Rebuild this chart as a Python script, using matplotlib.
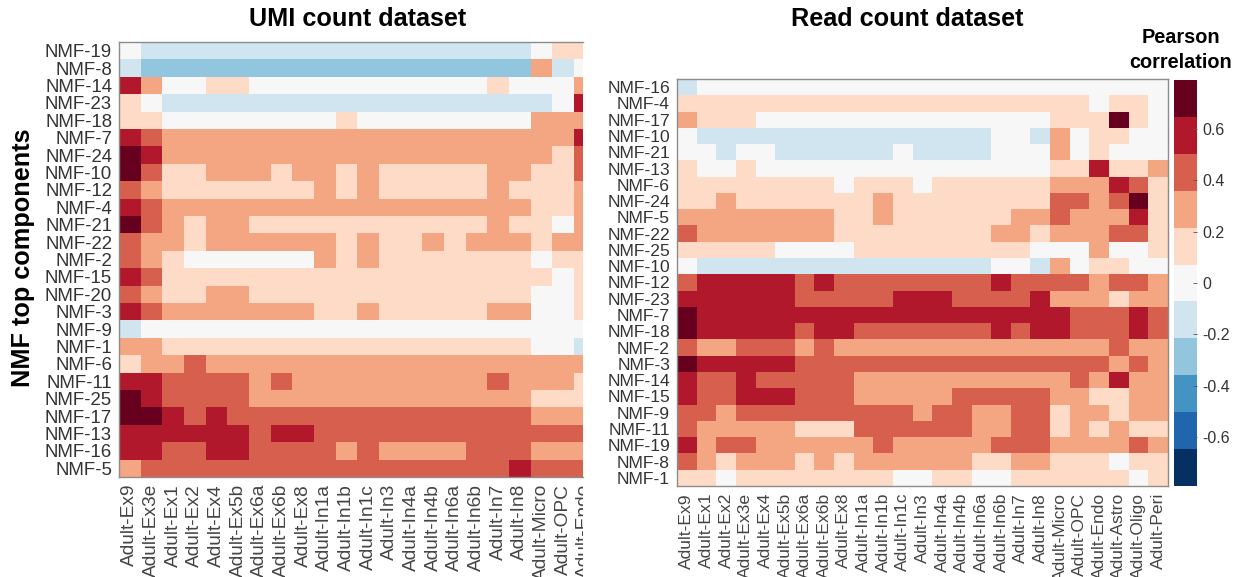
import numpy as np
import matplotlib
matplotlib.use('Agg')
from matplotlib import pyplot as plt
from matplotlib.colors import ListedColormap
from matplotlib.transforms import Bbox

plt.rcParams['font.family'] = ['Liberation Sans', 'DejaVu Sans']

W, H = 1242, 577

# levels of the binned colour scale, one step = bin_step of correlation
bin_step = 0.144

umi_rows = ['NMF-19', 'NMF-8', 'NMF-14', 'NMF-23', 'NMF-18', 'NMF-7', 'NMF-24', 'NMF-10', 'NMF-12',
            'NMF-4', 'NMF-21', 'NMF-22', 'NMF-2', 'NMF-15', 'NMF-20', 'NMF-3', 'NMF-9', 'NMF-1',
            'NMF-6', 'NMF-11', 'NMF-25', 'NMF-17', 'NMF-13', 'NMF-16', 'NMF-5']
umi_cols = ['Adult-Ex9', 'Adult-Ex3e', 'Adult-Ex1', 'Adult-Ex2', 'Adult-Ex4', 'Adult-Ex5b', 'Adult-Ex6a',
            'Adult-Ex6b', 'Adult-Ex8', 'Adult-In1a', 'Adult-In1b', 'Adult-In1c', 'Adult-In3', 'Adult-In4a',
            'Adult-In4b', 'Adult-In6a', 'Adult-In6b', 'Adult-In7', 'Adult-In8', 'Adult-Micro', 'Adult-OPC',
            'Adult-Endo']
umi_levels = [
    [0, -1, -1, -1, -1, -1, -1, -1, -1, -1, -1, -1, -1, -1, -1, -1, -1, -1, -1, 0, 1, 1],
    [-1, -2, -2, -2, -2, -2, -2, -2, -2, -2, -2, -2, -2, -2, -2, -2, -2, -2, -2, 2, -1, 0],
    [4, 2, 0, 0, 1, 1, 0, 0, 0, 0, 0, 0, 0, 0, 0, 0, 0, 1, 0, 0, 0, 2],
    [1, 0, -1, -1, -1, -1, -1, -1, -1, -1, -1, -1, -1, -1, -1, -1, -1, -1, -1, -1, 0, 4],
    [1, 1, 0, 0, 0, 0, 0, 0, 0, 0, 1, 0, 0, 0, 0, 0, 0, 0, 0, 2, 2, 2],
    [4, 3, 2, 2, 2, 2, 2, 2, 2, 2, 2, 2, 2, 2, 2, 2, 2, 2, 2, 2, 2, 4],
    [5, 4, 2, 2, 2, 2, 2, 2, 2, 2, 2, 2, 2, 2, 2, 2, 2, 2, 2, 2, 1, 3],
    [5, 3, 1, 1, 2, 2, 2, 1, 2, 2, 1, 2, 1, 1, 1, 1, 1, 2, 2, 1, 1, 3],
    [3, 2, 1, 1, 1, 1, 1, 1, 1, 2, 1, 2, 1, 1, 1, 1, 1, 2, 1, 1, 1, 2],
    [4, 3, 2, 2, 2, 2, 2, 2, 2, 2, 2, 2, 2, 2, 2, 2, 2, 2, 2, 1, 1, 2],
    [5, 3, 2, 1, 2, 2, 1, 1, 1, 1, 1, 1, 1, 1, 1, 1, 1, 2, 1, 1, 0, 2],
    [3, 2, 2, 1, 2, 2, 2, 2, 2, 2, 1, 2, 1, 1, 2, 1, 2, 2, 2, 1, 2, 2],
    [3, 2, 1, 0, 0, 0, 0, 0, 0, 2, 1, 2, 1, 1, 1, 1, 1, 1, 1, 0, 1, 1],
    [4, 3, 1, 1, 1, 1, 1, 1, 1, 1, 1, 1, 1, 1, 1, 1, 1, 1, 1, 1, 0, 1],
    [3, 2, 1, 1, 2, 2, 1, 1, 1, 1, 1, 1, 1, 1, 1, 1, 1, 1, 1, 0, 0, 1],
    [4, 3, 2, 2, 2, 2, 2, 2, 2, 1, 1, 2, 1, 1, 1, 1, 1, 2, 2, 0, 0, 1],
    [-1, 0, 0, 0, 0, 0, 0, 0, 0, 0, 0, 0, 0, 0, 0, 0, 0, 0, 0, 0, 0, 0],
    [2, 2, 1, 1, 1, 1, 1, 1, 1, 1, 1, 1, 1, 1, 1, 1, 1, 1, 1, 0, 0, -1],
    [1, 2, 2, 3, 2, 2, 2, 2, 2, 2, 2, 2, 2, 2, 2, 2, 2, 2, 2, 2, 2, 2],
    [4, 4, 3, 3, 3, 3, 2, 3, 2, 2, 2, 2, 2, 2, 2, 2, 2, 3, 2, 2, 2, 1],
    [5, 4, 3, 3, 3, 3, 2, 2, 2, 2, 2, 2, 2, 2, 2, 2, 2, 2, 2, 1, 1, 1],
    [5, 5, 4, 3, 4, 3, 3, 3, 3, 3, 3, 3, 3, 3, 3, 3, 3, 3, 3, 2, 2, 2],
    [4, 4, 4, 4, 4, 4, 3, 4, 4, 3, 3, 3, 3, 3, 3, 3, 3, 3, 3, 3, 3, 3],
    [4, 4, 3, 3, 4, 4, 3, 3, 3, 3, 2, 3, 2, 2, 2, 2, 3, 3, 3, 2, 2, 2],
    [2, 3, 3, 3, 3, 3, 3, 3, 3, 3, 3, 3, 3, 3, 3, 3, 3, 3, 4, 3, 3, 3],
]

read_rows = ['NMF-16', 'NMF-4', 'NMF-17', 'NMF-10', 'NMF-21', 'NMF-13', 'NMF-6', 'NMF-24', 'NMF-5',
             'NMF-22', 'NMF-25', 'NMF-10', 'NMF-12', 'NMF-23', 'NMF-7', 'NMF-18', 'NMF-2', 'NMF-3',
             'NMF-14', 'NMF-15', 'NMF-9', 'NMF-11', 'NMF-19', 'NMF-8', 'NMF-1']
read_cols = ['Adult-Ex9', 'Adult-Ex1', 'Adult-Ex2', 'Adult-Ex3e', 'Adult-Ex4', 'Adult-Ex5b', 'Adult-Ex6a',
             'Adult-Ex6b', 'Adult-Ex8', 'Adult-In1a', 'Adult-In1b', 'Adult-In1c', 'Adult-In3', 'Adult-In4a',
             'Adult-In4b', 'Adult-In6a', 'Adult-In6b', 'Adult-In7', 'Adult-In8', 'Adult-Micro', 'Adult-OPC',
             'Adult-Endo', 'Adult-Astro', 'Adult-Oligo', 'Adult-Peri']
read_levels = [
    [-1, 0, 0, 0, 0, 0, 0, 0, 0, 0, 0, 0, 0, 0, 0, 0, 0, 0, 0, 0, 0, 0, 0, 0, 0],
    [1, 1, 1, 1, 1, 1, 1, 1, 1, 1, 1, 1, 1, 1, 1, 1, 1, 1, 1, 1, 1, 0, 1, 1, 0],
    [2, 1, 1, 1, 0, 0, 0, 0, 0, 0, 0, 0, 0, 0, 0, 0, 0, 0, 0, 1, 1, 1, 5, 1, 0],
    [0, -1, -1, -1, -1, -1, -1, -1, -1, -1, -1, -1, -1, -1, -1, -1, 0, 0, -1, 2, 0, 1, 1, 0, 0],
    [0, 0, -1, 0, 0, -1, -1, -1, -1, -1, -1, 0, -1, -1, -1, -1, 0, 0, 0, 2, 0, 1, 0, 0, 0],
    [1, 0, 0, 1, 0, 0, 0, 0, 0, 0, 0, 0, 0, 0, 0, 0, 0, 0, 0, 1, 1, 4, 1, 1, 2],
    [1, 1, 1, 1, 1, 1, 1, 1, 0, 1, 1, 1, 0, 1, 1, 1, 1, 1, 1, 2, 2, 2, 4, 3, 1],
    [1, 1, 2, 1, 1, 1, 1, 1, 1, 1, 2, 1, 1, 1, 1, 1, 1, 1, 1, 3, 3, 2, 3, 5, 1],
    [2, 2, 2, 2, 2, 2, 2, 2, 1, 1, 2, 1, 1, 1, 1, 1, 1, 2, 2, 3, 2, 2, 2, 4, 1],
    [3, 2, 2, 2, 2, 2, 2, 2, 1, 1, 1, 1, 1, 1, 1, 1, 2, 2, 1, 2, 2, 2, 3, 3, 1],
    [1, 1, 1, 1, 1, 0, 0, 0, 0, 1, 1, 1, 1, 1, 1, 1, 1, 1, 0, 0, 0, 2, 0, 0, 1],
    [0, -1, -1, -1, -1, -1, -1, -1, -1, -1, -1, -1, -1, -1, -1, -1, 0, 0, -1, 2, 0, 1, 1, 0, 0],
    [3, 4, 4, 4, 4, 4, 3, 4, 3, 3, 3, 3, 3, 3, 3, 3, 4, 3, 3, 3, 3, 2, 3, 3, 2],
    [4, 4, 4, 4, 4, 4, 3, 3, 3, 3, 3, 4, 4, 4, 3, 3, 3, 3, 4, 2, 2, 2, 1, 2, 2],
    [5, 4, 4, 4, 4, 4, 4, 4, 4, 4, 4, 4, 4, 4, 4, 4, 4, 4, 4, 4, 3, 3, 3, 4, 3],
    [5, 4, 4, 4, 4, 4, 3, 4, 4, 3, 3, 3, 3, 3, 3, 3, 4, 3, 4, 4, 3, 3, 3, 4, 3],
    [3, 2, 2, 3, 3, 3, 2, 3, 2, 2, 2, 2, 2, 2, 2, 2, 2, 2, 2, 2, 2, 2, 3, 2, 2],
    [5, 4, 4, 4, 4, 4, 3, 3, 3, 3, 3, 3, 3, 3, 3, 3, 3, 3, 3, 3, 3, 3, 2, 3, 2],
    [4, 3, 3, 4, 3, 3, 3, 3, 3, 2, 2, 2, 2, 2, 2, 2, 2, 2, 2, 2, 3, 2, 4, 2, 2],
    [4, 3, 3, 4, 4, 4, 3, 3, 3, 2, 2, 2, 2, 2, 3, 3, 3, 3, 3, 2, 2, 1, 1, 2, 2],
    [3, 3, 2, 3, 3, 3, 3, 3, 3, 3, 3, 3, 2, 3, 3, 2, 2, 3, 3, 1, 2, 2, 1, 2, 2],
    [3, 2, 2, 2, 2, 2, 1, 1, 1, 3, 3, 3, 3, 3, 3, 2, 2, 3, 3, 1, 2, 1, 2, 1, 1],
    [4, 2, 3, 3, 2, 2, 2, 2, 2, 2, 3, 2, 2, 2, 2, 2, 3, 3, 3, 2, 2, 2, 2, 3, 2],
    [3, 2, 1, 2, 2, 2, 1, 2, 1, 2, 2, 2, 2, 2, 2, 1, 1, 2, 2, 1, 1, 1, 0, 1, 1],
    [1, 1, 0, 1, 1, 1, 1, 1, 1, 1, 1, 0, 0, 1, 1, 0, 0, 1, 1, 1, 1, 1, 1, 0, 1],
]

bar_ticks = [-0.6, -0.4, -0.2, 0, 0.2, 0.4, 0.6]
bar_colors = ['#053061', '#2166ac', '#4393c3', '#92c5de', '#d1e5f0', '#f7f7f7',
              '#fddbc7', '#f4a582', '#d6604d', '#b2182b', '#67001f']

cmap = ListedColormap(bar_colors)
vlim = 5.5 * bin_step


def box(x0, y0, x1, y1):
    # pixel box of the reference -> figure fraction
    return [x0 / W, 1 - y1 / H, (x1 - x0) / W, (y1 - y0) / H]


def heat(ax, levels, rows, cols, yfont, xfont, xmax=None):
    vals = np.array(levels) * bin_step
    im = ax.imshow(vals, cmap=cmap, vmin=-vlim, vmax=vlim, aspect='auto', interpolation='nearest')
    ax.set_yticks(range(len(rows)))
    ax.set_yticklabels(rows, fontsize=yfont, color='#333333')
    ax.set_xticks(range(len(cols)))
    ax.set_xticklabels(cols, rotation=90, fontsize=xfont, color='#444444')
    ax.tick_params(length=0, pad=5)
    for s in ax.spines.values():
        s.set_color('#8c8c8c')
        s.set_linewidth(1)
    if xmax is not None:
        ax.set_xlim(-0.5, xmax)
    return im


fig = plt.figure(figsize=(W / 100, H / 100), dpi=100)

ax1 = fig.add_axes(box(119, 42, 583, 477))
heat(ax1, umi_levels, umi_rows, umi_cols, 13.4, 13.8, xmax=20.92)
ax1.spines['right'].set_visible(False)
# last column sits past the cut at x=583, its tick is dropped so label it by hand
endo = ax1.annotate(umi_cols[-1], xy=(21, 0), xycoords=('data', 'axes fraction'), xytext=(0, -5),
                    textcoords='offset points', rotation=90, ha='center', va='top',
                    fontsize=13.8, color='#444444', annotation_clip=False)
endo.set_clip_box(Bbox([[0, 0], [583, H]]))
endo.set_clip_on(True)

ax2 = fig.add_axes(box(677, 79, 1168, 486))
im = heat(ax2, read_levels, read_rows, read_cols, 12.6, 12.6)

fig.text(358 / W, 1 - 19 / H, 'UMI count dataset', fontsize=18.2, fontweight='bold',
         ha='center', va='center', color='black')
fig.text(907 / W, 1 - 19 / H, 'Read count dataset', fontsize=18.2, fontweight='bold',
         ha='center', va='center', color='black')
fig.text(23 / W, 1 - 258 / H, 'NMF top components', fontsize=18.2, fontweight='bold',
         rotation=90, ha='center', va='center', color='black')
fig.text(1181 / W, 1 - 50 / H, 'Pearson\ncorrelation', fontsize=14.3, fontweight='bold',
         ha='center', va='center', linespacing=1.4, color='black')

cax = fig.add_axes(box(1174, 80, 1197, 486))
cb = fig.colorbar(im, cax=cax, ticks=bar_ticks, drawedges=False)
cb.ax.set_yticklabels(['-0.6', '-0.4', '-0.2', '0', '0.2', '0.4', '0.6'], fontsize=11.5, color='#333333')
cb.ax.tick_params(length=3, width=0.6, direction='in', color='#555555', pad=4)
cb.outline.set_visible(False)

fig.savefig('out.png', dpi=100)
